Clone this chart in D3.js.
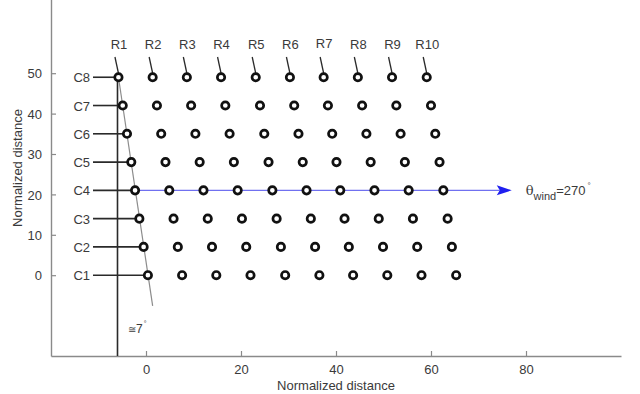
<!DOCTYPE html>
<html><head><meta charset="utf-8">
<script src="https://cdn.jsdelivr.net/npm/d3@7"></script>
<style>
html,body{margin:0;padding:0;background:#fff;}
svg{display:block;}
text{font-family:"Liberation Sans",Arial,Helvetica,sans-serif;}
</style></head>
<body>
<svg id="chart" width="640" height="394"></svg>
<script>
// ---- data ----
const rowLabels = ["C1","C2","C3","C4","C5","C6","C7","C8"];
const rowY = [0, 7, 14, 21, 28, 35, 42, 49];
const rowShift = [0, -0.9, -1.8, -2.7, -3.5, -4.4, -5.3, -6.2];
const colLabels = ["R1","R2","R3","R4","R5","R6","R7","R8","R9","R10"];
const colX = [0.4, 7.6, 14.8, 22.0, 29.3, 36.5, 43.6, 50.8, 58.0, 65.3];
const xTicks = [0, 20, 40, 60, 80];
const yTicks = [0, 10, 20, 30, 40, 50];
const refLineX = -6;          // vertical reference line
const slantEnd = [1.4, -7.6]; // lower end of the ~7 degree line
const windRow = 3;            // C4
const windArrowEndX = 77;
const windLabel = "270";
const angleLabel = "7";

// ---- scales ----
const svg = d3.select("#chart");
const x = d3.scaleLinear().domain([-20, 100]).range([51, 621]);
const y = d3.scaleLinear().domain([-20, 70]).range([356, -7.6]);

const axisColor = "#8a8a8a";
const textColor = "#3a3a3a";

// axes
const gx = svg.append("g").attr("transform", `translate(0,${y(-20)})`)
  .call(d3.axisBottom(x).tickValues(xTicks).tickSizeInner(-5).tickSizeOuter(0).tickPadding(9));
const gy = svg.append("g").attr("transform", `translate(${x(-20)},0)`)
  .call(d3.axisLeft(y).tickValues(yTicks).tickSizeInner(-5).tickSizeOuter(0).tickPadding(9));
[gx, gy].forEach(g => {
  g.select(".domain").attr("stroke", axisColor).attr("stroke-width", 1.4);
  g.selectAll(".tick line").attr("stroke", axisColor).attr("stroke-width", 1.2);
  g.selectAll(".tick text").attr("fill", textColor).attr("font-size", 13)
    .attr("font-family", '"Liberation Sans",Arial,sans-serif');
});
gy.selectAll(".tick text").attr("dy", "0.36em");

svg.append("text").attr("x", x(40)).attr("y", 390).attr("text-anchor", "middle")
  .attr("font-size", 13).attr("fill", textColor).text("Normalized distance");
svg.append("text").attr("transform", `translate(22,168) rotate(-90)`).attr("text-anchor", "middle")
  .attr("font-size", 13).attr("fill", textColor).text("Normalized distance");

// points
const pts = [];
rowY.forEach((yy, j) => colX.forEach((xx, i) => pts.push({i, j, x: xx + rowShift[j], y: yy})));

// vertical reference line
svg.append("line").attr("x1", x(refLineX)).attr("x2", x(refLineX))
  .attr("y1", y(-20)).attr("y2", y(rowY[7]))
  .attr("stroke", "#2a2a2a").attr("stroke-width", 1.6);

// slanted line through R1 column
svg.append("line").attr("x1", x(colX[0] + rowShift[7])).attr("y1", y(rowY[7]))
  .attr("x2", x(slantEnd[0])).attr("y2", y(slantEnd[1]))
  .attr("stroke", "#8c8c8c").attr("stroke-width", 1.2);

// wind line + arrow
const wy = y(rowY[windRow]);
svg.append("line").attr("x1", x(colX[0] + rowShift[windRow])).attr("x2", x(windArrowEndX) - 12)
  .attr("y1", wy).attr("y2", wy).attr("stroke", "#7070f0").attr("stroke-width", 1.1);
const ax = x(windArrowEndX);
svg.append("path")
  .attr("d", `M${ax},${wy} L${ax - 15},${wy - 5} L${ax - 12},${wy} L${ax - 15},${wy + 5} Z`)
  .attr("fill", "#1f1ff0");
const wl = svg.append("text").attr("x", ax + 14).attr("y", wy + 5).attr("font-size", 13).attr("fill", textColor);
wl.append("tspan").attr("font-family", '"DejaVu Serif","Liberation Serif",serif').attr("font-size", 13).text("θ");
wl.append("tspan").attr("font-size", 11).attr("dy", 5).text("wind");
wl.append("tspan").attr("dy", -5).text("=" + windLabel);
wl.append("tspan").attr("font-size", 8).attr("dy", -7).attr("dx", 2).text("°");

// C leaders and labels
rowY.forEach((yy, j) => {
  const cy = y(yy), cx = x(colX[0] + rowShift[j]);
  svg.append("line").attr("x1", 93).attr("x2", cx - 4).attr("y1", cy).attr("y2", cy)
    .attr("stroke", "#2a2a2a").attr("stroke-width", 1.6);
  svg.append("text").attr("x", 90).attr("y", cy + 5).attr("text-anchor", "end")
    .attr("font-size", 13).attr("fill", textColor).text(rowLabels[j]);
});

// R leaders and labels
colX.forEach((xx, i) => {
  const cx = x(xx + rowShift[7]), cy = y(rowY[7]);
  svg.append("line").attr("x1", cx - 3.5).attr("y1", 57).attr("x2", cx).attr("y2", cy - 4)
    .attr("stroke", "#2a2a2a").attr("stroke-width", 1.3);
  svg.append("text").attr("x", cx + 0.5).attr("y", i === 6 ? 48 : 49).attr("text-anchor", "middle")
    .attr("font-size", 13).attr("fill", textColor).text(colLabels[i]);
});

// circles
svg.append("g").selectAll("circle").data(pts).join("circle")
  .attr("cx", d => x(d.x)).attr("cy", d => y(d.y)).attr("r", 3.7)
  .attr("fill", "#fff").attr("stroke", "#111").attr("stroke-width", 2.7);

// angle label
const al = svg.append("text").attr("x", x(-3.8)).attr("y", 333).attr("font-size", 12).attr("fill", textColor);
al.append("tspan").attr("font-size", 10).text("≅");
al.append("tspan").text(angleLabel);
al.append("tspan").attr("font-size", 7).attr("dy", -7).attr("dx", 1).text("°");
</script>
</body></html>
